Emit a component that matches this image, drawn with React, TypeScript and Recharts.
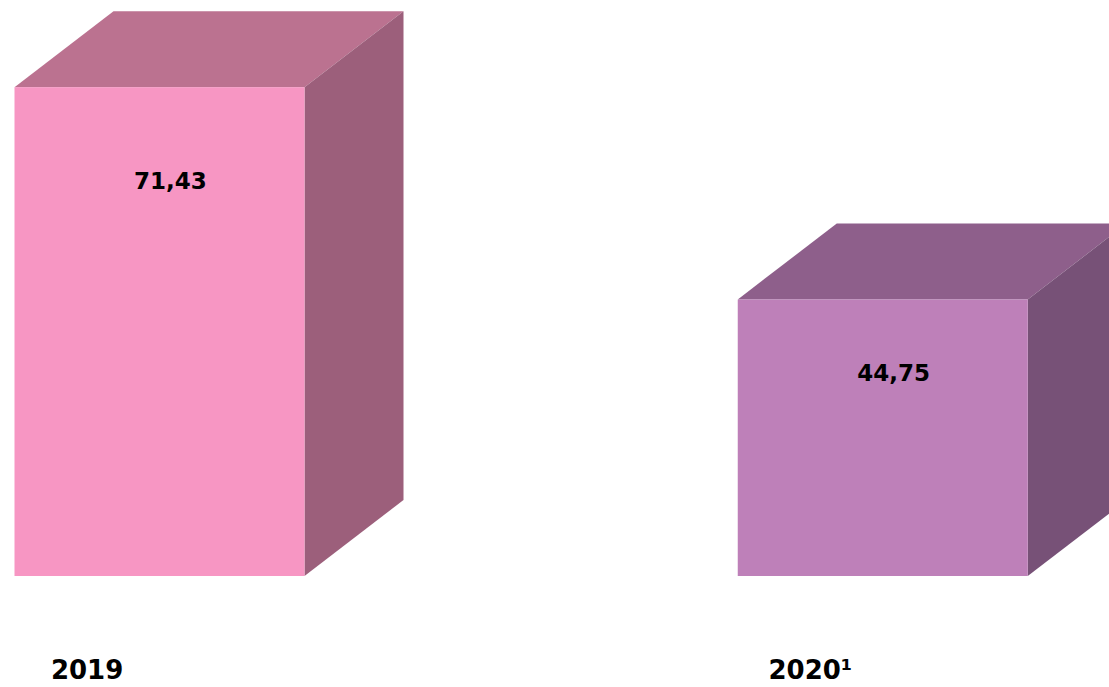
import { BarChart, Bar, XAxis, YAxis, Cell, LabelList } from 'recharts';

const years = ['2019', '2020¹'];
const values = [71.43, 44.75];

const data = years.map((year, i) => ({ year, value: values[i] }));

// front, top, side shades for each box
const faces = [
  { front: '#F796C3', top: '#BB7290', side: '#9C5F7B' },
  { front: '#BE80B9', top: '#8E5F8B', side: '#775177' },
];

const DEPTH_X = 99;
const DEPTH_Y = 76;

const Box = (props: any) => {
  const { x, y, width, height, index } = props;
  const c = faces[index % faces.length];
  const r = x + width;
  const b = y + height;
  return (
    <g>
      <polygon
        points={`${x},${y} ${x + DEPTH_X},${y - DEPTH_Y} ${r + DEPTH_X},${y - DEPTH_Y} ${r},${y}`}
        fill={c.top}
      />
      <polygon
        points={`${r},${y} ${r + DEPTH_X},${y - DEPTH_Y} ${r + DEPTH_X},${b - DEPTH_Y} ${r},${b}`}
        fill={c.side}
      />
      <rect x={x} y={y} width={width} height={height} fill={c.front} />
    </g>
  );
};

// label sits a bit lower in taller boxes, like the original
const ValueLabel = (props: any) => {
  const { x, y, width, height, value } = props;
  return (
    <text
      x={x + width / 2 + 11}
      y={y + 56 + height * 0.094}
      textAnchor="middle"
      fontFamily="'DejaVu Sans', sans-serif"
      fontWeight="bold"
      fontSize={23}
      fill="#000"
    >
      {String(value).replace('.', ',')}
    </text>
  );
};

const YearTick = (props: any) => {
  const { x, y, payload } = props;
  return (
    <text
      x={x - 72}
      y={y + 95}
      textAnchor="middle"
      fontFamily="'DejaVu Sans', sans-serif"
      fontWeight="bold"
      fontSize={26}
      fill="#000"
    >
      {payload.value}
    </text>
  );
};

export default function App() {
  return (
    <div style={{ position: 'absolute', left: 0, top: 0, background: '#fff' }}>
      <BarChart
        width={1109}
        height={687}
        data={data}
        margin={{ top: 19, right: -135, bottom: 0, left: -202.5 }}
      >
        <XAxis
          dataKey="year"
          axisLine={false}
          tickLine={false}
          height={111}
          tick={<YearTick />}
          interval={0}
        />
        <YAxis hide domain={[10, 80]} />
        <Bar dataKey="value" barSize={290} shape={<Box />} isAnimationActive={false}>
          {data.map((d, i) => (
            <Cell key={d.year} fill={faces[i].front} />
          ))}
          <LabelList dataKey="value" content={<ValueLabel />} />
        </Bar>
      </BarChart>
    </div>
  );
}
